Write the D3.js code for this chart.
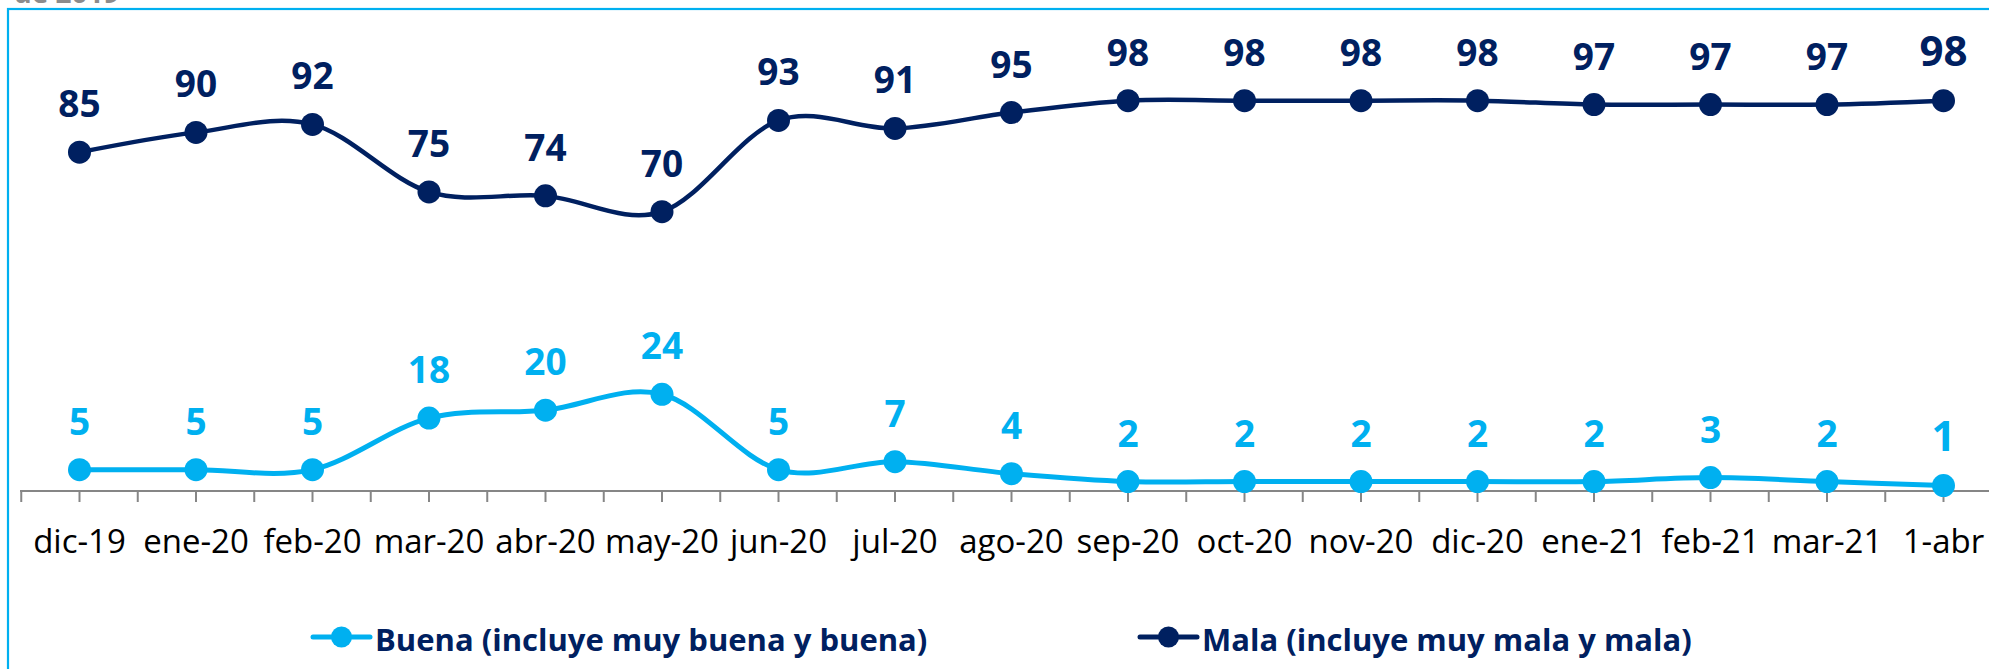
<!DOCTYPE html>
<html>
<head>
<meta charset="utf-8">
<script src="https://cdn.jsdelivr.net/npm/d3@7"></script>
<style>
  html, body { margin: 0; padding: 0; background: #ffffff; }
  svg { display: block; }
</style>
</head>
<body>
<div id="chart"></div>
<script>
const categories = ["dic-19","ene-20","feb-20","mar-20","abr-20","may-20","jun-20","jul-20","ago-20","sep-20","oct-20","nov-20","dic-20","ene-21","feb-21","mar-21","1-abr"];
const buenaValues = [5,5,5,18,20,24,5,7,4,2,2,2,2,2,3,2,1];
const malaValues = [85,90,92,75,74,70,93,91,95,98,98,98,98,97,97,97,98];
const seriesNames = ["Buena (incluye muy buena y buena)", "Mala (incluye muy mala y mala)"];
const topNote = "de 2019";

const W = 1989, H = 669;
const colBuena = "#00B0F0", colMala = "#002060", colAxis = "#868686";

const svg = d3.select("#chart").append("svg").attr("width", W).attr("height", H);
svg.append("rect").attr("width", W).attr("height", H).attr("fill", "#fff");

// heading text above the frame (cut off at the top, as in the original)
svg.append("text").attr("x", 14).attr("y", 3)
  .attr("font-family", "Open Sans").attr("font-weight", 700).attr("font-size", 28)
  .attr("fill", "#8c8c8c").text(topNote);

// frame
svg.append("rect").attr("x", 8).attr("y", 9).attr("width", W + 20).attr("height", H + 20)
  .attr("fill", "none").attr("stroke", colBuena).attr("stroke-width", 2.2);

const x = d3.scaleBand().domain(categories).range([21.25, 21.25 + 17 * 116.5]).padding(0);
const cx = c => x(c) + x.bandwidth() / 2;
const y = d3.scaleLinear().domain([0, 100]).range([489.5, 92.7]);
const axisY = y(0) + 1.5;

// axis line
svg.append("line").attr("x1", 20).attr("x2", W).attr("y1", axisY).attr("y2", axisY)
  .attr("stroke", colAxis).attr("stroke-width", 2);

// ticks at boundaries and centers
const tickXs = [];
categories.forEach(c => { tickXs.push(x(c)); tickXs.push(cx(c)); });
tickXs.push(x(categories[categories.length - 1]) + x.bandwidth());
svg.append("g").selectAll("line").data(tickXs).join("line")
  .attr("x1", d => d).attr("x2", d => d).attr("y1", axisY).attr("y2", axisY + 11)
  .attr("stroke", colAxis).attr("stroke-width", 2);

// axis labels
svg.append("g").selectAll("text").data(categories).join("text")
  .attr("x", d => cx(d)).attr("y", 553).attr("text-anchor", "middle")
  .attr("font-family", "Open Sans").attr("font-size", 33).attr("fill", "#000")
  .text(d => d);

const line = d3.line().x((d, i) => cx(categories[i])).y(d => y(d)).curve(d3.curveCardinal.tension(0));

function drawSeries(vals, color, width) {
  const g = svg.append("g");
  g.append("path").attr("d", line(vals)).attr("fill", "none").attr("stroke", color)
    .attr("stroke-width", width).attr("stroke-linejoin", "round");
  g.selectAll("circle").data(vals).join("circle")
    .attr("cx", (d, i) => cx(categories[i])).attr("cy", d => y(d)).attr("r", 11.5).attr("fill", color);
  g.selectAll("text").data(vals).join("text")
    .attr("x", (d, i) => cx(categories[i])).attr("y", d => y(d) - 35)
    .attr("text-anchor", "middle").attr("font-family", "Open Sans").attr("font-weight", 700)
    .attr("font-size", (d, i) => i === vals.length - 1 ? 42 : 37)
    .attr("fill", color).text(d => d);
}
drawSeries(buenaValues, colBuena, 5);
drawSeries(malaValues, colMala, 4.5);

// legend
const legend = [
  { name: seriesNames[0], color: colBuena, x1: 313, x2: 370, tx: 375 },
  { name: seriesNames[1], color: colMala, x1: 1140, x2: 1197, tx: 1202 }
];
const lg = svg.append("g").selectAll("g").data(legend).join("g");
lg.append("line").attr("x1", d => d.x1).attr("x2", d => d.x2).attr("y1", 637).attr("y2", 637)
  .attr("stroke", d => d.color).attr("stroke-width", 5).attr("stroke-linecap", "round");
lg.append("circle").attr("cx", d => (d.x1 + d.x2) / 2).attr("cy", 637).attr("r", 10.5).attr("fill", d => d.color);
lg.append("text").attr("x", d => d.tx).attr("y", 651)
  .attr("font-family", "Open Sans").attr("font-weight", 700).attr("font-size", 31)
  .attr("fill", colMala).text(d => d.name);
</script>
</body>
</html>
